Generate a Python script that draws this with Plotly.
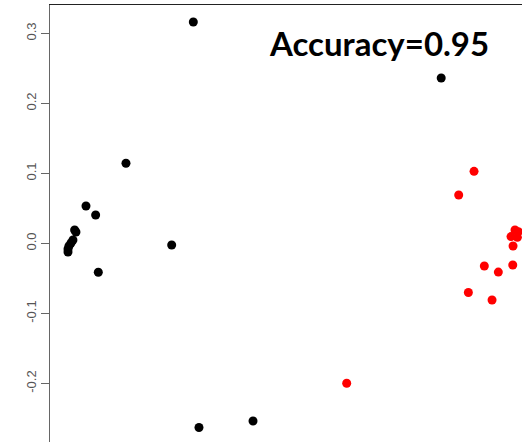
import plotly.graph_objects as go

# black group (class 1)
black_x = [-0.1524, 0.2017, -0.2486, -0.3057, -0.2919, -0.3219, -0.3200, -0.3243,
           -0.3271, -0.3300, -0.3314, -0.3314, -0.1833, -0.2881, -0.1443, -0.0671]
black_y = [0.3164, 0.2364, 0.1146, 0.0536, 0.0407, 0.0193, 0.0164, 0.0050,
           0.0007, -0.0036, -0.0079, -0.0121, -0.0021, -0.0411, -0.2629, -0.2536]

# red group (class 2)
red_x = [0.2486, 0.2267, 0.3071, 0.3119, 0.3014, 0.3105, 0.3043, 0.2633,
         0.3039, 0.2833, 0.2405, 0.2743, 0.0667]
red_y = [0.1031, 0.0693, 0.0193, 0.0169, 0.0098, 0.0088, -0.0036, -0.0321,
         -0.0307, -0.0409, -0.0701, -0.0807, -0.1997]

y_ticks = [-0.2, -0.1, 0.0, 0.1, 0.2, 0.3]
y_tick_labels = ["-0.2", "-0.1", "0.0", "0.1", "0.2", "0.3"]

fig = go.Figure()
fig.add_trace(go.Scatter(x=black_x, y=black_y, mode="markers",
                         marker=dict(color="black", size=9, line=dict(width=0)),
                         showlegend=False))
fig.add_trace(go.Scatter(x=red_x, y=red_y, mode="markers",
                         marker=dict(color="#ff0000", size=9, line=dict(width=0)),
                         showlegend=False))

fig.update_layout(
    width=522, height=442,
    margin=dict(l=50, r=0, t=5, b=0),
    paper_bgcolor="white", plot_bgcolor="white",
    xaxis=dict(range=[-0.3571, 0.3171], showgrid=False, zeroline=False,
               showticklabels=False, ticks="", showline=True, side="top",
               linecolor="#222222", linewidth=1),
    yaxis=dict(range=[-0.2836, 0.3407], showgrid=False, zeroline=False,
               tickvals=y_ticks, ticktext=y_tick_labels, tickangle=-90,
               ticks="outside", ticklen=8, tickcolor="#666666", tickwidth=1,
               showline=True, linecolor="#666666", linewidth=1,
               tickfont=dict(family="Liberation Sans, Arial", size=13, color="#555555")),
    annotations=[dict(text="<b>Accuracy=0.95</b>", xref="paper", yref="paper",
                      x=(379 - 50) / 472, y=1.0 - 16 / 437, xanchor="center", yanchor="top",
                      showarrow=False,
                      font=dict(family="Lato", size=33, color="black"))],
)

fig.write_html("out.html")
